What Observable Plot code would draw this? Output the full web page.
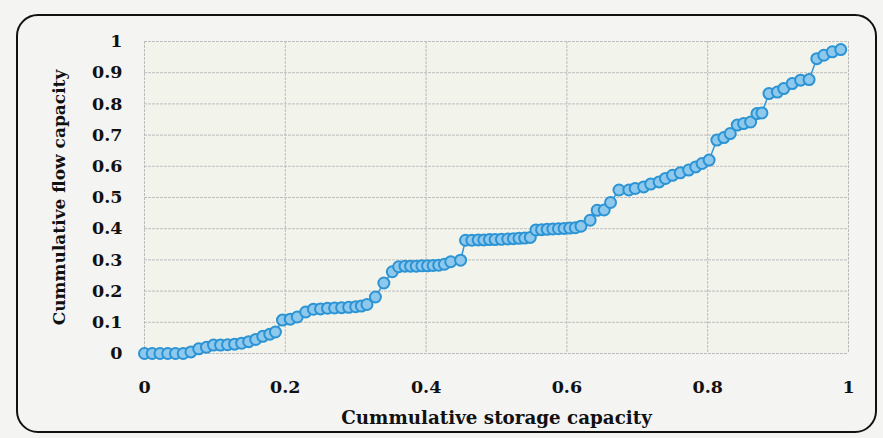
<!DOCTYPE html>
<html>
<head>
<meta charset="utf-8">
<script src="https://cdn.jsdelivr.net/npm/d3@7"></script>
<script src="https://cdn.jsdelivr.net/npm/@observablehq/plot@0.6"></script>
<style>
  html, body { margin: 0; padding: 0; background: #f4f4f3; }
  #wrap { position: relative; width: 883px; height: 438px; }
  #border { position: absolute; left: 16px; top: 14px; width: 861px; height: 419px;
            border: 2px solid #111; border-radius: 22px; box-sizing: border-box; pointer-events: none; }
  #chart { position: absolute; left: 0; top: 0; }
</style>
</head>
<body>
<div id="wrap"><div id="chart"></div><div id="border"></div></div>
<script>
// Cumulative storage capacity (x) and cumulative flow capacity (y)
const storage = [
  0.000, 0.011, 0.022, 0.033, 0.044, 0.055, 0.066, 0.077, 0.088, 0.098,
  0.108, 0.118, 0.128, 0.138, 0.148, 0.158, 0.168, 0.178, 0.186, 0.196,
  0.207, 0.217, 0.229, 0.240, 0.250, 0.260, 0.270, 0.280, 0.290, 0.300,
  0.308, 0.316, 0.328, 0.340, 0.352, 0.361, 0.370, 0.378, 0.386, 0.394,
  0.402, 0.410, 0.418, 0.426, 0.435, 0.449, 0.456, 0.465, 0.474, 0.482,
  0.490, 0.498, 0.507, 0.516, 0.524, 0.532, 0.540, 0.548, 0.556, 0.564,
  0.572, 0.580, 0.588, 0.596, 0.604, 0.612, 0.620, 0.633, 0.643, 0.653,
  0.662, 0.674, 0.688, 0.697, 0.709, 0.719, 0.731, 0.740, 0.750, 0.761,
  0.773, 0.783, 0.792, 0.802, 0.813, 0.823, 0.832, 0.842, 0.851, 0.861,
  0.870, 0.877, 0.887, 0.899, 0.908, 0.920, 0.932, 0.944, 0.955, 0.965,
  0.977, 0.989
];
const flow = [
  0.000, 0.000, 0.000, 0.000, 0.000, 0.000, 0.005, 0.015, 0.020, 0.027,
  0.027, 0.028, 0.030, 0.033, 0.038, 0.045, 0.055, 0.062, 0.069, 0.107,
  0.110, 0.117, 0.133, 0.142, 0.143, 0.145, 0.146, 0.147, 0.148, 0.150,
  0.152, 0.157, 0.181, 0.226, 0.262, 0.278, 0.280, 0.280, 0.280, 0.281,
  0.281, 0.282, 0.283, 0.286, 0.294, 0.299, 0.363, 0.363, 0.364, 0.364,
  0.365, 0.365, 0.366, 0.367, 0.368, 0.369, 0.370, 0.372, 0.396, 0.397,
  0.398, 0.399, 0.400, 0.401, 0.402, 0.403, 0.408, 0.427, 0.459, 0.460,
  0.484, 0.524, 0.524, 0.529, 0.534, 0.543, 0.550, 0.561, 0.571, 0.579,
  0.588, 0.598, 0.609, 0.620, 0.684, 0.692, 0.705, 0.732, 0.737, 0.742,
  0.769, 0.771, 0.833, 0.838, 0.849, 0.865, 0.876, 0.878, 0.945, 0.956,
  0.967, 0.974
];
const xTicks = [0, 0.2, 0.4, 0.6, 0.8, 1];
const yTicks = [0, 0.1, 0.2, 0.3, 0.4, 0.5, 0.6, 0.7, 0.8, 0.9, 1];
const xLabel = "Cummulative storage capacity";
const yLabel = "Cummulative flow capacity";

const data = storage.map((x, i) => ({x, y: flow[i]}));
const font = "'DejaVu Serif', serif";

const chart = Plot.plot({
  width: 883,
  height: 438,
  marginLeft: 144,
  marginRight: 35,
  marginTop: 41,
  marginBottom: 85,
  style: {background: "transparent", fontFamily: font, fontWeight: "bold", fontSize: "17.5px", color: "#111"},
  x: {domain: [0, 1], ticks: xTicks, tickFormat: d => String(d), label: null},
  y: {domain: [0, 1], ticks: yTicks, tickFormat: d => String(d), label: null},
  marks: [
    Plot.frame({fill: "#f2f4ec", stroke: null}),
    Plot.gridX(xTicks, {stroke: "#bdbdbd", strokeOpacity: 1, strokeDasharray: "3,1"}),
    Plot.gridY(yTicks, {stroke: "#bdbdbd", strokeOpacity: 1, strokeDasharray: "3,1"}),
    Plot.axisX(xTicks, {tickSize: 0, tickPadding: 27, fontSize: 17.5, fontWeight: "bold", fill: "#111", label: null, tickFormat: d => String(d)}),
    Plot.axisY(yTicks, {tickSize: 0, tickPadding: 22, fontSize: 17.5, fontWeight: "bold", fill: "#111", label: null, tickFormat: d => String(d)}),
    Plot.text([xLabel], {frameAnchor: "bottom", lineAnchor: "middle", dy: 65, fontSize: 18.3, fontWeight: "bold", fill: "#111"}),
    Plot.text([yLabel], {frameAnchor: "left", textAnchor: "middle", lineAnchor: "middle", dx: -85, rotate: -90, fontSize: 17, fontWeight: "bold", fill: "#111"}),
    Plot.line(data, {x: "x", y: "y", stroke: "#3497d6", strokeWidth: 1.5}),
    Plot.dot(data, {x: "x", y: "y", r: 5.5, fill: "#8ec8ec", stroke: "#2c94d4", strokeWidth: 2})
  ]
});
document.getElementById("chart").appendChild(chart);
</script>
</body>
</html>
